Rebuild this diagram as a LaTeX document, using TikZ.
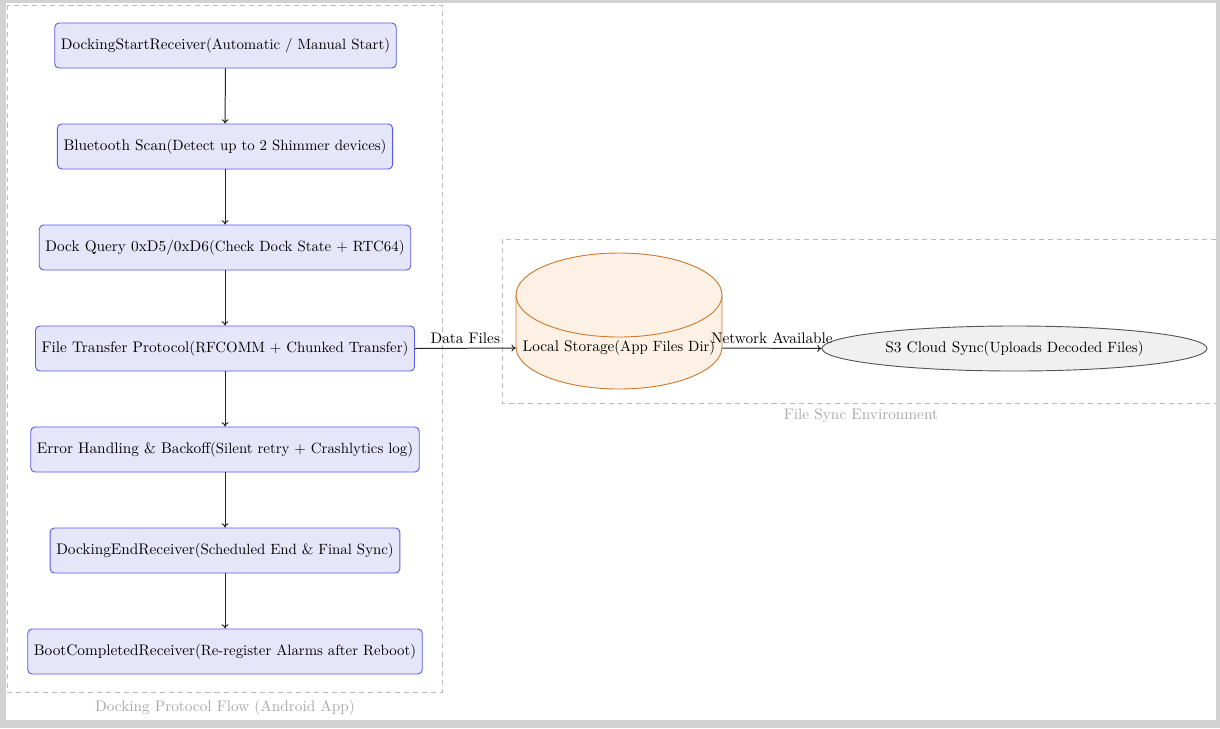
\documentclass[tikz,border=0pt]{standalone}
\usetikzlibrary{arrows.meta,shapes.geometric}
\definecolor{boxfill}{HTML}{E6E6FA}
\definecolor{boxdraw}{HTML}{5A5AF0}
\definecolor{cylfill}{HTML}{FCF1E4}
\definecolor{cyldraw}{HTML}{CC7A2E}
\definecolor{ellfill}{HTML}{F0F0F0}
\definecolor{elldraw}{HTML}{555555}
\definecolor{clusterline}{HTML}{BBBBBB}
\definecolor{clustertext}{HTML}{A8A8A8}
\newcommand{\paren}[1]{{\fontsize{9.7}{11}\selectfont #1}}
\begin{document}
\begin{tikzpicture}[x=0.653pt,y=-0.653pt,
  stepbox/.style={rectangle, rounded corners=2.8pt, draw=boxdraw, fill=boxfill, line width=0.6pt,
    minimum height=29.4pt, inner xsep=4pt, font=\normalsize},
  cluster/.style={draw=clusterline, line width=0.6pt, dash pattern=on 3.3pt off 2.6pt},
  clusterlabel/.style={text=clustertext, inner sep=0pt},
  arr/.style={-{To[length=2.8pt,width=4.5pt]}, line width=0.65pt, draw=black!85},
  elabel/.style={above, inner sep=2.6pt, text=black}]
\useasboundingbox (0,0) rectangle (1220,728);
\fill[gray!35] (0,0) rectangle (1220,728);
\fill[white] (6,3) rectangle (1216,720);

% clusters
\draw[cluster] (7,5) rectangle (442,692);
\node[clusterlabel] (lab1) at (225,707.5) {Docking Protocol Flow (Android App)};
\draw[cluster] (1216,239) -- (502,239) -- (502,403) -- (1216,403);
\node[clusterlabel] (lab2) at (861,415.5) {File Sync Environment};

% left column
\node[stepbox] (n1) at (225.5,45.5) {DockingStartReceiver\paren{(Automatic / Manual Start)}};
\node[stepbox] (n2) at (225,146.5) {Bluetooth Scan\paren{(Detect up to 2 Shimmer devices)}};
\node[stepbox] (n3) at (225,247.5) {Dock Query 0xD5/0xD6\paren{(Check Dock State + RTC64)}};
\node[stepbox] (n4) at (225,348.5) {File Transfer Protocol\paren{(RFCOMM + Chunked Transfer)}};
\node[stepbox] (n5) at (225,449.5) {Error Handling \& Backoff\paren{(Silent retry + Crashlytics log)}};
\node[stepbox] (n6) at (225,550.5) {DockingEndReceiver\paren{(Scheduled End \& Final Sync)}};
\node[stepbox] (n7) at (225,651.5) {BootCompletedReceiver\paren{(Re-register Alarms after Reboot)}};

\draw[arr] (n1) -- (n2);
\draw[arr] (n2) -- (n3);
\draw[arr] (n3) -- (n4);
\draw[arr] (n4) -- (n5);
\draw[arr] (n5) -- (n6);
\draw[arr] (n6) -- (n7);

% storage cylinder
\path[fill=cylfill, draw=cyldraw, line width=0.6pt] (516,295) -- (516,347)
  arc[start angle=180, end angle=360, x radius=67.26pt, y radius=27.43pt] -- (722,295);
\draw[fill=cylfill, draw=cyldraw, line width=0.6pt] (619,295) ellipse[x radius=67.26pt, y radius=27.43pt];
\node[minimum width=134.5pt, inner sep=0pt] (store) at (619,348) {Local Storage\paren{(App Files Dir)}};

% S3
\node[ellipse, draw=elldraw, fill=ellfill, line width=0.6pt, minimum width=251.4pt, minimum height=29.4pt, inner sep=0pt]
  (s3) at (1014.5,348.5) {S3 Cloud Sync\paren{(Uploads Decoded Files)}};

\draw[arr] (n4.east) -- node[elabel] {Data Files} (store.west);
\draw[arr] (store.east) -- node[elabel] {Network Available} (s3.west);
\end{tikzpicture}
\end{document}
